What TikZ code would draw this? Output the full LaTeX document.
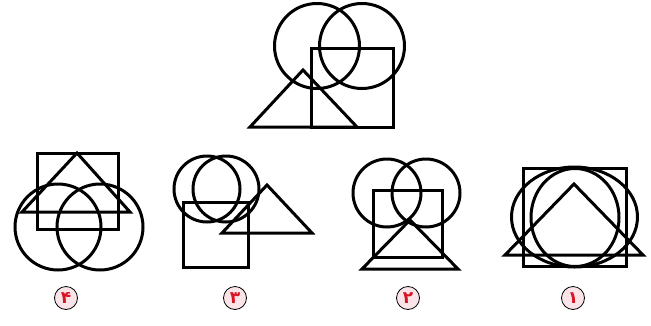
\documentclass[tikz,border=0pt]{standalone}
\usepackage{fontspec}
\newfontfamily\arabicfont[Script=Arabic]{DejaVu Sans}
\TeXXeTstate=1
\definecolor{labelpink}{RGB}{250,228,232}
\definecolor{labelred}{RGB}{215,20,35}
\tikzset{
    shapeline/.style={line width=3pt, line join=miter},
    optlabel/.style={circle, draw, thick, fill=labelpink, text=labelred,
        minimum size=23pt, inner sep=0pt, font=\arabicfont\bfseries\fontsize{17}{17}\selectfont}
}
\begin{document}
\begin{tikzpicture}[x=1pt, y=-1pt]
        \useasboundingbox (0,0) rectangle (651,325);
    % Draw the given figure
        \begin{scope}[shapeline]
            \draw (317,46) circle (42.5pt);
            \draw (362,46) circle (42.5pt);
            \draw (311,48) rectangle (393,127);
            \draw (250,127) -- (303,70) -- (357,127) -- cycle;
        \end{scope}
    % Draw option 4
        \begin{scope}[shapeline]
            \draw (37,153) rectangle (118,229);
            \draw (22,212) -- (77,153) -- (130,212) -- cycle;
            \draw (58,227) circle (43pt);
            \draw (100,227) circle (43pt);
        \end{scope}
    % Draw option 3
        \begin{scope}[shapeline]
            \draw (207,189) circle (33pt);
            \draw (226,189) circle (33pt);
            \draw (183,202) rectangle (248,267);
            \draw (222,233) -- (267,185) -- (312,233) -- cycle;
        \end{scope}
    % Draw option 2
        \begin{scope}[shapeline]
            \draw (387,193) circle (34pt);
            \draw (426,193) circle (34pt);
            \draw (373,190) rectangle (442,257);
            \draw (362,269) -- (410,220) -- (458,269) -- cycle;
        \end{scope}
    % Draw option 1
        \begin{scope}[shapeline]
            \draw (523,168) rectangle (626,266);
            \draw (574.5,217) ellipse [x radius=63pt, y radius=50pt];
            \draw (575,217.5) ellipse [x radius=44pt, y radius=49pt];
            \draw (505,255) -- (574,184) -- (643,255) -- cycle;
        \end{scope}
    % Draw option labels
        \foreach \x/\d/\name in {66/۴/optfour, 235/۳/optthree, 408/۲/opttwo, 573/۱/optone} {
            \node[optlabel] (\name) at (\x,298) {\beginR\d\endR};
        }
    \end{tikzpicture}
\end{document}
